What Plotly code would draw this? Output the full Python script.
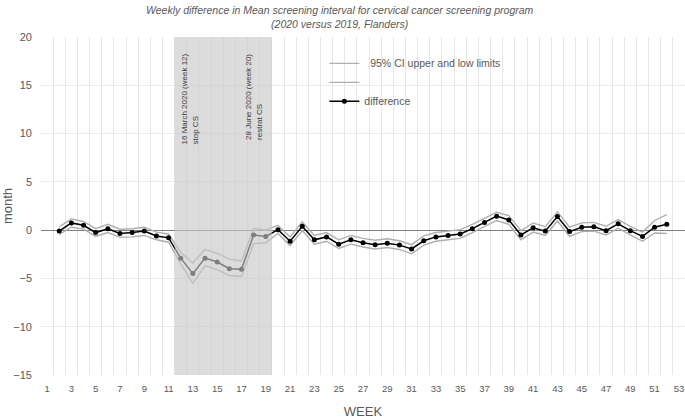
import plotly.graph_objects as go

weeks = list(range(2, 53))
difference = [-0.1, 0.75, 0.5, -0.25, 0.15, -0.35, -0.25, -0.1, -0.6, -0.8,
              -2.9, -4.5, -2.9, -3.3, -4.0, -4.05, -0.5, -0.65, 0.05, -1.15,
              0.4, -1.0, -0.7, -1.45, -1.0, -1.3, -1.5, -1.35, -1.55, -1.95,
              -1.1, -0.7, -0.55, -0.4, 0.15, 0.8, 1.45, 1.05, -0.5, 0.25,
              -0.1, 1.4, -0.15, 0.3, 0.35, -0.05, 0.65, -0.05, -0.65, 0.3, 0.6]
ci_upper = [0.35, 1.15, 0.9, 0.15, 0.6, 0.1, 0.15, 0.3, -0.2, -0.4,
            -2.3, -3.4, -2.0, -2.4, -3.0, -3.2, 0.2, 0.0, 0.5, -0.7,
            0.85, -0.55, -0.25, -1.0, -0.55, -0.85, -1.05, -0.9, -1.1, -1.5,
            -0.6, -0.25, -0.1, 0.05, 0.6, 1.25, 1.85, 1.5, -0.05, 0.75,
            0.35, 1.9, 0.3, 0.75, 0.8, 0.4, 1.1, 0.4, -0.2, 1.0, 1.6]
ci_lower = [-0.45, 0.3, 0.1, -0.65, -0.25, -0.75, -0.7, -0.55, -1.0, -1.25,
            -3.5, -5.5, -3.7, -4.1, -4.7, -4.8, -1.4, -1.3, -0.35, -1.6,
            -0.05, -1.45, -1.15, -1.9, -1.45, -1.75, -1.95, -1.8, -2.0, -2.45,
            -1.55, -1.15, -1.0, -0.85, -0.25, 0.35, 1.0, 0.6, -1.0, -0.2,
            -0.55, 0.95, -0.65, -0.15, -0.1, -0.5, 0.2, -0.5, -1.15, -0.3, -0.35]
x_tick_labels = list(range(1, 54, 2))
y_ticks = list(range(-15, 21, 5))
lockdown_start, lockdown_end = 11.5, 19.5

TXT = "#595959"
FONT = "Liberation Sans Narrow, Liberation Sans, Arial, sans-serif"

fig = go.Figure()
fig.add_trace(go.Scatter(x=weeks, y=ci_upper, mode="lines",
                         name="  95% CI upper and low limits",
                         line=dict(color="#afafaf", width=1.4)))
fig.add_trace(go.Scatter(x=weeks, y=ci_lower, mode="lines", name=" ",
                         line=dict(color="#afafaf", width=1.4)))
fig.add_trace(go.Scatter(x=weeks, y=difference, mode="lines+markers",
                         name="difference",
                         line=dict(color="#000000", width=1.5),
                         marker=dict(color="#000000", size=5)))

fig.add_shape(type="rect", xref="x", yref="y", x0=lockdown_start, x1=lockdown_end,
              y0=-15, y1=20, fillcolor="rgba(200,200,200,0.63)", line_width=0,
              layer="above")

fig.add_annotation(x=12.75, y=8.7, xref="x", yref="y", textangle=-90,
                   text="16 March 2020 (week 12)<br>stop CS", showarrow=False,
                   align="left", xanchor="center", yanchor="bottom",
                   font=dict(family=FONT, size=8, color="#404040"))
fig.add_annotation(x=18.0, y=9.1, xref="x", yref="y", textangle=-90,
                   text="28 June 2020 (week 20)<br>restrat CS", showarrow=False,
                   align="left", xanchor="center", yanchor="bottom",
                   font=dict(family=FONT, size=8, color="#404040"))

fig.add_annotation(x=0.465, y=1.0, xref="paper", yref="paper", yshift=5,
                   xanchor="center", yanchor="bottom", showarrow=False,
                   text="<i>Weekly difference in Mean screening interval for cervical cancer screening program<br>(2020 versus 2019, Flanders)</i>",
                   font=dict(family=FONT, size=10.5, color=TXT))

fig.update_layout(
    width=685, height=419,
    margin=dict(l=41, r=0, t=37, b=44, autoexpand=False),
    paper_bgcolor="white", plot_bgcolor="white",
    font=dict(family=FONT, color=TXT),
    showlegend=True,
    legend=dict(x=0.44, y=0.965, xanchor="left", yanchor="top",
                bgcolor="rgba(0,0,0,0)", font=dict(size=10.5, color=TXT),
                itemwidth=30, tracegroupgap=0),
    xaxis=dict(range=[0.5, 53.5], tickmode="array", tickvals=x_tick_labels,
               ticktext=[str(v) for v in x_tick_labels], automargin=False,
               showgrid=False, zeroline=False, showline=False, ticks="",
               ticklabelstandoff=6,
               tickfont=dict(size=9.5, color=TXT),
               minor=dict(tickmode="linear", tick0=0.5, dtick=1, showgrid=True,
                          gridcolor="#e6e6e6", gridwidth=1, ticks=""),
               title=dict(text="WEEK", standoff=14, font=dict(size=13, color=TXT))),
    yaxis=dict(range=[-15, 20], tickmode="array", tickvals=y_ticks, automargin=False,
               showgrid=True, gridcolor="#ebebeb", gridwidth=1,
               zeroline=True, zerolinecolor="#808080", zerolinewidth=1,
               showline=False, ticks="", ticklabelstandoff=8,
               tickfont=dict(size=11, color=TXT),
               title=dict(text="month", standoff=1, font=dict(size=13, color=TXT))),
)

fig.write_html("out.html", config={"displayModeBar": False},
               post_script="document.body.style.margin='0';document.body.style.padding='0';")
